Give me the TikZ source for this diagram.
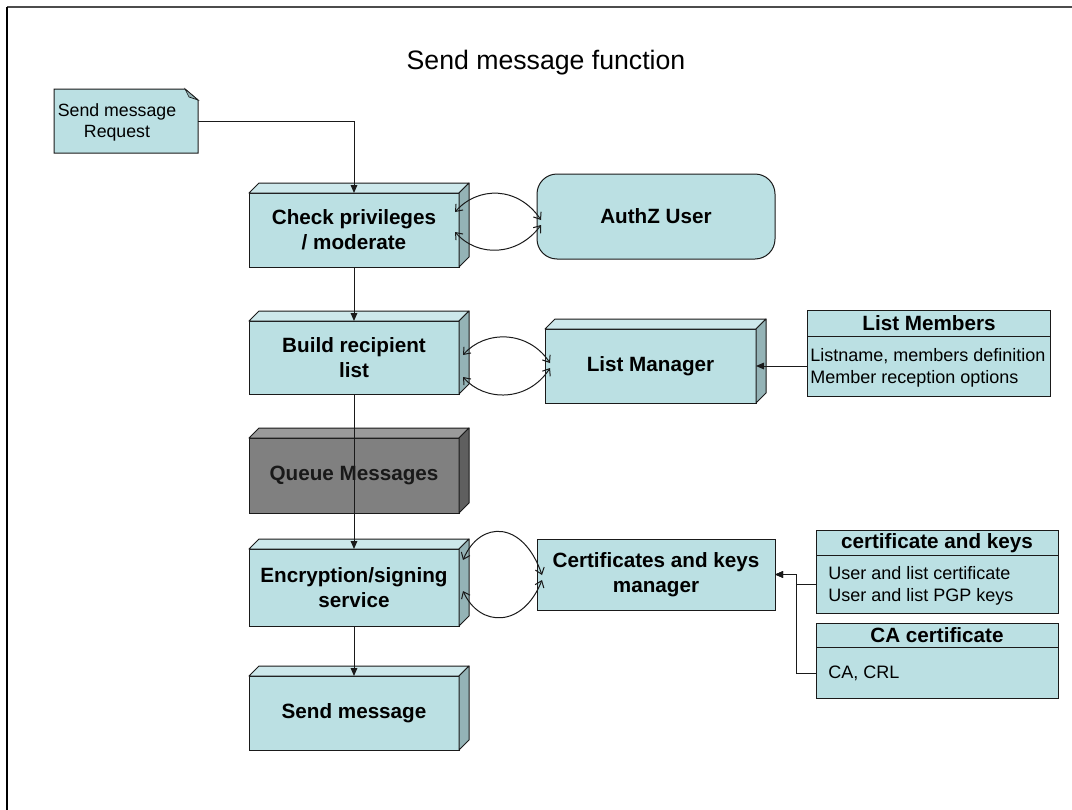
\documentclass[tikz,border=0pt]{standalone}
\usepackage{fontspec}
\setmainfont{Liberation Sans}
\usetikzlibrary{arrows.meta,calc}
\definecolor{front}{HTML}{BBE0E3}
\definecolor{topf}{HTML}{CDE8EB}
\definecolor{sidef}{HTML}{94B3B6}
\definecolor{qfront}{HTML}{808080}
\definecolor{qtop}{HTML}{9A9A9A}
\definecolor{qside}{HTML}{5F5F5F}
\definecolor{edge}{HTML}{1A1A1A}
\tikzset{
 cube/.style={draw=edge, fill=front, line width=0.75pt, outer sep=0pt, align=center,
   font=\bfseries\fontsize{15.5}{18.5}\selectfont, minimum width=157.5pt},
 flatbox/.style={draw=edge, fill=front, line width=0.75pt, outer sep=0pt, align=center,
   font=\bfseries\fontsize{15.5}{18.5}\selectfont},
 tablebox/.style={draw=edge, fill=front, line width=0.75pt, outer sep=0pt},
 thead/.style={font=\bfseries\fontsize{15.5}{18.5}\selectfont, inner sep=0pt},
 tbody/.style={font=\fontsize{13.5}{16.5}\selectfont, align=left, inner sep=0pt, anchor=west},
 flow/.style={line width=0.75pt, draw=edge, -{Triangle[length=6pt,width=5pt]}},
 dbl/.style={line width=0.75pt, draw=edge,
   {Straight Barb[length=4.5pt,width=7pt]}-{Straight Barb[length=4.5pt,width=7pt]}},
}
\newcommand\cubefaces[3]{%
 \filldraw[fill=#2, draw=edge, line width=0.75pt, line join=round] (#1.north west) -- ++(10,-10) -- ([shift={(10,-10)}]#1.north east) -- (#1.north east) -- cycle;
 \filldraw[fill=#3, draw=edge, line width=0.75pt, line join=round] (#1.north east) -- ++(10,-10) -- ([shift={(10,-10)}]#1.south east) -- (#1.south east) -- cycle;
}
\begin{document}
\begin{tikzpicture}[x=0.75pt,y=-0.75pt]
\useasboundingbox (0,0) rectangle (1072,810);
% frame
\draw[line width=0.9pt, black!70] (7,7) -- (1072,7);
\draw[line width=0.9pt, black] (7,7) -- (7,810);
% title
\node[font=\fontsize{20}{24}\selectfont] (title) at (546,63) {Send message function};
% note
\node[minimum width=108pt, minimum height=48pt, outer sep=0pt] (note) at (126,121) {};
\filldraw[fill=front, draw=edge, line width=0.75pt] (note.north west) -- ([shift={(-13,0)}]note.north east) -- ([shift={(0,11)}]note.north east) -- (note.south east) -- (note.south west) -- cycle;
\filldraw[fill=sidef, draw=edge, line width=0.5pt] ([shift={(-13,0)}]note.north east) -- ([shift={(0,11)}]note.north east) -- ([shift={(-9,8)}]note.north east) -- cycle;
\node[font=\fontsize{13.3}{15.75}\selectfont, align=center] (notetxt) at (117,122) {Send message\\Request};
% cubes
\node[cube, minimum height=55.5pt] (chk) at (354,230) {Check privileges\\/ moderate};
\cubefaces{chk}{topf}{sidef}
\node[cube, minimum height=54.75pt] (build) at (354,357.5) {Build recipient\\list};
\cubefaces{build}{topf}{sidef}
\node[cube, fill=qfront, text=black!90, minimum height=56.25pt] (queue) at (354,475.5) {Queue Messages};
\cubefaces{queue}{qtop}{qside}
\node[cube, minimum height=57.75pt] (enc) at (354,587.5) {Encryption/signing\\service};
\cubefaces{enc}{topf}{sidef}
\node[cube, minimum height=55.5pt] (send) at (354,713) {Send message};
\cubefaces{send}{topf}{sidef}
\node[cube, minimum width=158.25pt, minimum height=55.5pt] (lm) at (650.5,366) {List Manager};
\cubefaces{lm}{topf}{sidef}
% flat boxes
\node[flatbox, rounded corners=15pt, minimum width=178.5pt, minimum height=63.75pt] (auth) at (656,216.5) {AuthZ User};
\node[flatbox, minimum width=178.5pt, minimum height=53.25pt] (cert) at (656,574.5) {Certificates and keys\\manager};
% tables
\node[tablebox, minimum width=182.25pt, minimum height=64.5pt] (lmem) at (929,353) {};
\draw[line width=0.75pt, edge] ([shift={(0,26)}]lmem.north west) -- ([shift={(0,26)}]lmem.north east);
\node[thead] (lmemh) at ([shift={(0,13)}]lmem.north) {List Members};
\node[tbody] (lmemb) at (810,368) {Listname, members definition\\Member reception options};

\node[tablebox, minimum width=181.5pt, minimum height=62.25pt] (ck) at (937,571.5) {};
\draw[line width=0.75pt, edge] ([shift={(0,25)}]ck.north west) -- ([shift={(0,25)}]ck.north east);
\node[thead] (ckh) at ([shift={(0,13)}]ck.north) {certificate and keys};
\node[tbody] (ckb) at (828,586) {User and list certificate\\User and list PGP keys};

\node[tablebox, minimum width=181.5pt, minimum height=56.25pt] (ca) at (937,660.5) {};
\draw[line width=0.75pt, edge] ([shift={(0,24)}]ca.north west) -- ([shift={(0,24)}]ca.north east);
\node[thead] (cah) at ([shift={(0,12)}]ca.north) {CA certificate};
\node[tbody] (cab) at (828,673) {CA, CRL};
% connectors
\draw[flow] (note.east) -| (chk.north);
\draw[flow] (chk.south) -- (build.north);
\draw[flow] (build.south) -- (enc.north);
\draw[flow] (enc.south) -- (send.north);
\draw[flow] (lmem.west |- lm.east) -- (lm.east);
\draw[flow] ([shift={(0,13)}]ck.west) -- ++(-20,0) |- (cert.east);
\draw[flow] ([shift={(0,12.5)}]ca.west) -- ++(-20,0) |- (cert.east);
% curved double connectors
\draw[dbl] ([shift={(-4,-18)}]chk.east) .. controls +(23,-26) and +(-23,-34) .. ([shift={(4,3.5)}]auth.west);
\draw[dbl] ([shift={(-4,2)}]chk.east) .. controls +(23,26) and +(-23,31) .. ([shift={(4,8.5)}]auth.west);
\draw[dbl] ([shift={(4,-2.5)}]build.east) .. controls +(22,-25) and +(-22,-33) .. ([shift={(5,-3)}]lm.west);
\draw[dbl] ([shift={(4,19.5)}]build.east) .. controls +(22,25) and +(-22,34) .. ([shift={(5,2)}]lm.west);
\draw[dbl] ([shift={(4,-27.5)}]enc.east) .. controls +(17,-40) and +(-19,-55) .. ([shift={(5,0.5)}]cert.west);
\draw[dbl] ([shift={(4,3.5)}]enc.east) .. controls +(17,37) and +(-19,48) .. ([shift={(5,5.5)}]cert.west);
\end{tikzpicture}
\end{document}
